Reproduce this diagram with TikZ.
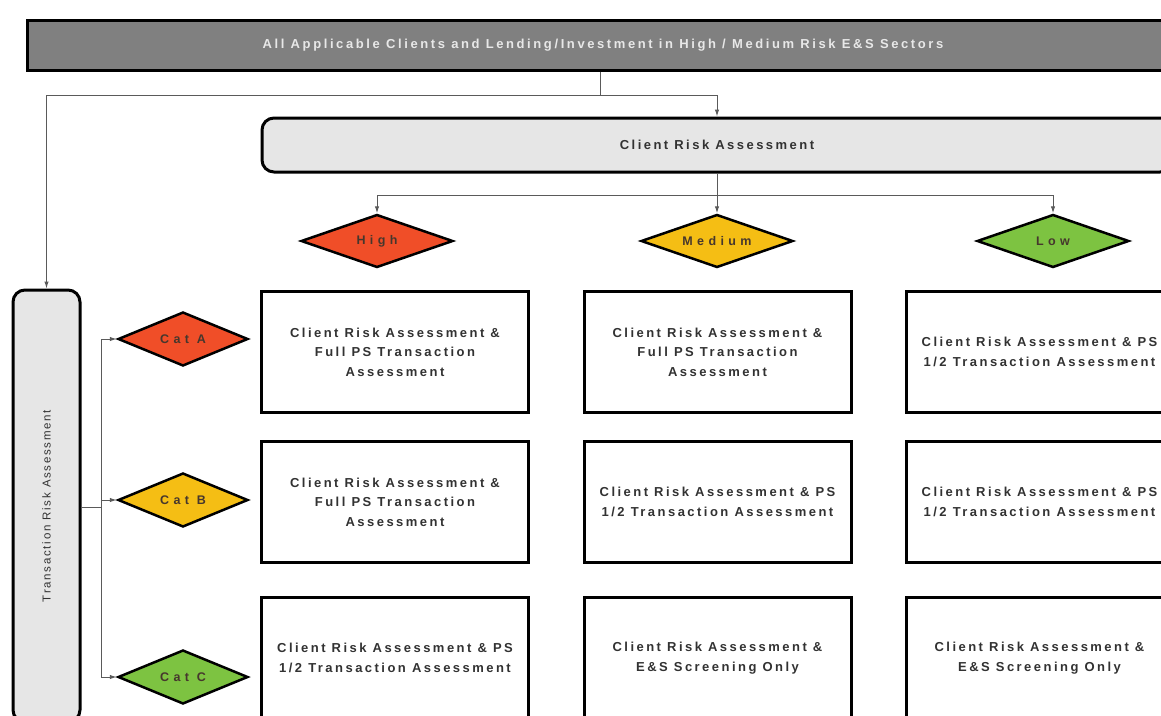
\documentclass[tikz,border=0pt]{standalone}
\usepackage{fontspec}
\setmainfont{Liberation Sans}
\newfontfamily\boxfont{Liberation Sans}[LetterSpace=19]
\newfontfamily\dfont{Liberation Sans}[LetterSpace=35]
\newfontfamily\tfont{Liberation Sans}[LetterSpace=15]
\newfontfamily\barfont{Liberation Sans}[LetterSpace=20]
\usetikzlibrary{shapes.geometric,arrows.meta}
\definecolor{hicol}{RGB}{240,78,40}
\definecolor{medcol}{RGB}{245,190,20}
\definecolor{lowcol}{RGB}{125,195,65}
\definecolor{barfill}{RGB}{128,128,128}
\definecolor{bartext}{RGB}{232,232,232}
\definecolor{lightg}{RGB}{230,230,230}
\definecolor{textg}{RGB}{50,50,50}
\definecolor{dtext}{RGB}{70,55,45}
\definecolor{lineg}{RGB}{90,90,90}
\begin{document}
\begin{tikzpicture}[x=1pt,y=-1pt,
  bar/.style={draw=black, line width=3pt, fill=barfill, minimum width=1152pt, minimum height=50pt, inner sep=0pt, text=bartext, font={\barfont\bfseries\fontsize{13}{15}\selectfont}},
  roundbox/.style={draw=black, line width=3pt, fill=lightg, rounded corners=12pt, inner sep=0pt},
  cell/.style={draw=black, line width=3pt, fill=white, minimum width=267pt, minimum height=121pt, inner sep=0pt, align=center, text=textg, font={\boxfont\bfseries\fontsize{13}{19.5}\selectfont}},
  dia/.style={diamond, draw=black, line width=2.5pt, inner sep=0pt, text=dtext, font={\dfont\bfseries\fontsize{12.5}{14}\selectfont}},
  bigdia/.style={dia, aspect=2.87, minimum width=152pt, minimum height=53pt},
  catdia/.style={dia, aspect=2.4, minimum width=130pt, minimum height=54pt},
  conn/.style={draw=lineg, line width=1pt},
  arr/.style={conn, -{Latex[length=7pt,width=4.5pt]}}
]
\useasboundingbox (0,0) rectangle (1161,715);
\clip (0,0) rectangle (1161,715);
\fill[white] (0,0) rectangle (1161,715);

% top bar
\node[bar] (top) at (603,45) {All Applicable Clients and Lending/Investment in High / Medium Risk E\&S Sectors};

% client risk assessment
\node[roundbox, minimum width=910pt, minimum height=54pt, text=textg, font={\boxfont\bfseries\fontsize{13}{15}\selectfont}] (cra) at (717,145) {Client Risk Assessment};

% transaction risk assessment
\node[roundbox, minimum width=67pt, minimum height=432pt] (tra) at (46.5,506) {};
\node[rotate=90, text=textg, font={\tfont\fontsize{11.5}{13}\selectfont}] (tratext) at (tra.center) {Transaction Risk Assessment};

% risk diamonds
\node[bigdia, fill=hicol] (high) at (377,241) {High};
\node[bigdia, fill=medcol] (medium) at (717,241) {Medium};
\node[bigdia, fill=lowcol] (low) at (1053,241) {Low};

% category diamonds
\node[catdia, fill=hicol] (cata) at (183,339) {Cat A};
\node[catdia, fill=medcol] (catb) at (183,500) {Cat B};
\node[catdia, fill=lowcol] (catc) at (183,677) {Cat C};

% cells
\node[cell] (a1) at (395,352) {Client Risk Assessment \&\\Full PS Transaction\\Assessment};
\node[cell] (a2) at (717.5,352) {Client Risk Assessment \&\\Full PS Transaction\\Assessment};
\node[cell] (a3) at (1039.5,352) {Client Risk Assessment \& PS\\1/2 Transaction Assessment};
\node[cell] (b1) at (395,502) {Client Risk Assessment \&\\Full PS Transaction\\Assessment};
\node[cell] (b2) at (717.5,502) {Client Risk Assessment \& PS\\1/2 Transaction Assessment};
\node[cell] (b3) at (1039.5,502) {Client Risk Assessment \& PS\\1/2 Transaction Assessment};
\node[cell] (c1) at (395,658) {Client Risk Assessment \& PS\\1/2 Transaction Assessment};
\node[cell] (c2) at (717.5,658) {Client Risk Assessment \&\\E\&S Screening Only};
\node[cell] (c3) at (1039.5,658) {Client Risk Assessment \&\\E\&S Screening Only};

% connectors
\coordinate (j1) at (600,95);
\draw[conn] (top.south -| j1) -- (j1);
\draw[arr] (j1) -| (cra.north);
\draw[arr] (j1) -| (tra.north);

\coordinate (j2) at (717,195);
\draw[conn] (cra.south) -- (j2);
\draw[arr] (j2) -| (high.north);
\draw[arr] (j2) -- (medium.north);
\draw[arr] (j2) -| (low.north);

\coordinate (j3) at (101,507);
\draw[conn] (tra.east |- j3) -- (j3);
\draw[arr] (j3) |- (cata.west);
\draw[arr] (j3 |- catb.west) -- (catb.west);
\draw[arr] (j3) |- (catc.west);
\end{tikzpicture}
\end{document}
